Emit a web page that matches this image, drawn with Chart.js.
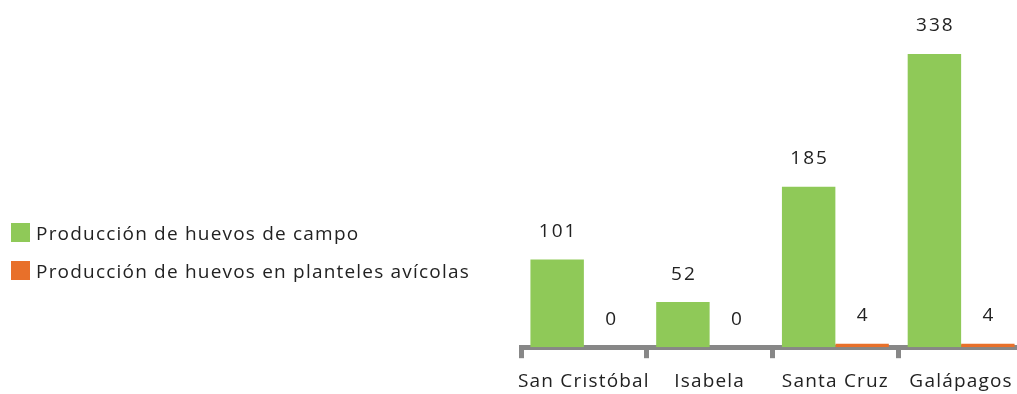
<!DOCTYPE html>
<html>
<head>
<meta charset="utf-8">
<script src="https://cdn.jsdelivr.net/npm/chart.js@4.4.0/dist/chart.umd.min.js"></script>
<style>
  body { margin: 0; background: #fff; overflow: hidden; }
  #wrap { position: relative; width: 1024px; height: 405px; }
  #legend { position: absolute; left: 11px; top: 223px; font: 19px "Open Sans", sans-serif; letter-spacing: 1.2px; color: #222; }
  .item { display: flex; align-items: center; height: 19px; margin-bottom: 19px; white-space: nowrap; }
  .box { width: 19px; height: 19px; margin-right: 6px; }
</style>
</head>
<body>
<div id="wrap">
  <canvas id="chart"></canvas>
  <div id="legend"></div>
</div>
<script>
// data
const islands = ['San Cristóbal', 'Isabela', 'Santa Cruz', 'Galápagos'];
const campo = [101, 52, 185, 338];
const planteles = [0, 0, 4, 4];
const seriesNames = ['Producción de huevos de campo', 'Producción de huevos en planteles avícolas'];
const colors = ['#8fc958', '#e8702a'];

const FONT = '"Open Sans", sans-serif';
const axisGray = '#878787';

// wider letter spacing like the original
const spacing = {
  id: 'spacing',
  beforeDraw(chart) { chart.ctx.letterSpacing = '1.2px'; }
};

// draws the value above each bar
const valueLabels = {
  id: 'valueLabels',
  afterDatasetsDraw(chart) {
    const ctx = chart.ctx;
    ctx.save();
    ctx.font = '19px ' + FONT;
    ctx.letterSpacing = '2px';
    ctx.fillStyle = '#222';
    ctx.textAlign = 'center';
    ctx.textBaseline = 'middle';
    chart.data.datasets.forEach((ds, i) => {
      chart.getDatasetMeta(i).data.forEach((bar, j) => {
        ctx.fillText(String(ds.data[j]), bar.x + 1, bar.y - 28);
      });
    });
    ctx.restore();
  }
};

const chart = new Chart(document.getElementById('chart'), {
  type: 'bar',
  data: {
    labels: islands,
    datasets: [
      { label: seriesNames[0], data: campo, backgroundColor: colors[0] },
      { label: seriesNames[1], data: planteles, backgroundColor: colors[1] }
    ]
  },
  options: {
    responsive: true,
    maintainAspectRatio: false,
    animation: false,
    layout: { padding: { left: 521, right: 0, top: 35, bottom: 0 } },
    datasets: { bar: { categoryPercentage: 0.85, barPercentage: 1 } },
    plugins: {
      legend: { display: false },
      tooltip: { enabled: false }
    },
    scales: {
      x: {
        z: 1,
        grid: {
          offset: true,
          drawOnChartArea: false,
          drawTicks: true,
          tickLength: 11,
          tickWidth: 5,
          tickColor: axisGray,
          color: axisGray
        },
        border: { display: true, color: axisGray, width: 5 },
        ticks: { color: '#222', font: { family: FONT, size: 19 }, padding: 12 }
      },
      y: {
        display: false,
        min: 0,
        max: 360
      }
    }
  },
  plugins: [spacing, valueLabels]
});

// legend built from the datasets
const legend = document.getElementById('legend');
chart.data.datasets.forEach(ds => {
  const row = document.createElement('div');
  row.className = 'item';
  row.innerHTML = `<span class="box" style="background:${ds.backgroundColor}"></span><span>${ds.label}</span>`;
  legend.appendChild(row);
});
</script>
</body>
</html>
